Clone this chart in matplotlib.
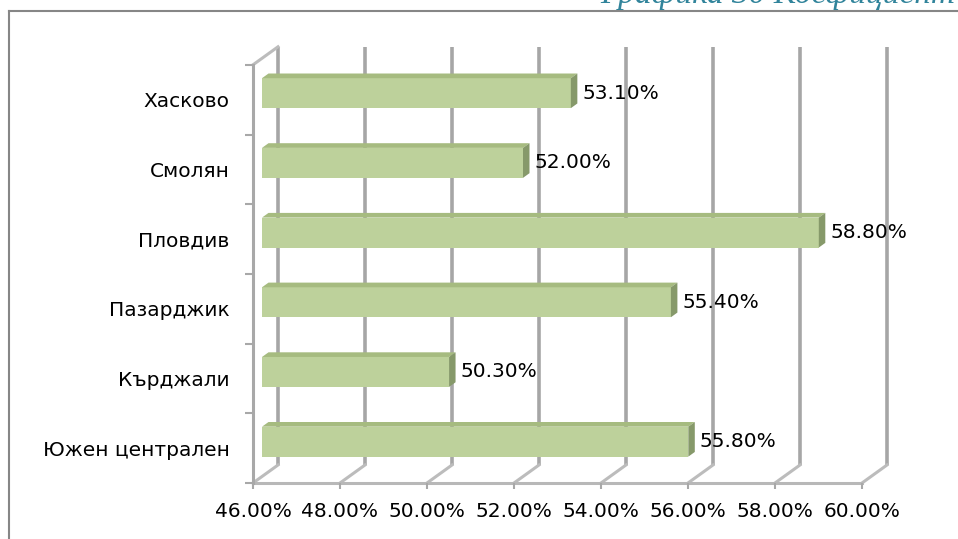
import matplotlib.pyplot as plt
from matplotlib.patches import Polygon
from matplotlib.lines import Line2D

# data
regions = ["Южен централен", "Кърджали", "Пазарджик", "Пловдив", "Смолян", "Хасково"]
values = [55.8, 50.3, 55.4, 58.8, 52.0, 53.1]
xticks = [46, 48, 50, 52, 54, 56, 58, 60]
xtick_labels = ["46.00%", "48.00%", "50.00%", "52.00%", "54.00%", "56.00%", "58.00%", "60.00%"]
value_labels = ["55.80%", "50.30%", "55.40%", "58.80%", "52.00%", "53.10%"]

plt.rcParams['font.family'] = ['DejaVu Sans']

fig = plt.figure(figsize=(9.58, 5.39), dpi=100)
W, H = 958, 539
ax = fig.add_axes([253 / W, 1 - 483 / H, (887 - 253) / W, (483 - 45) / H])
ax.set_xlim(46, 46 + (887 - 253) / 43.5)
ax.set_ylim(0, (483 - 45) / 69.7)

# 3d depth of the walls, in data units
DX = 25 / 43.5
DY = 18 / 69.7
f0, f1 = 0.36, 0.62      # bar front / back depth
half = 0.215             # half bar height

grid_c = '#a6a6a6'
n = len(regions)

# back wall gridlines and floor diagonals
for v in xticks:
    ax.plot([v + DX, v + DX], [DY, n + DY], color=grid_c, lw=2.6, zorder=1,
            solid_capstyle='butt', clip_on=False)
    ax.plot([v, v + DX], [0, DY], color='#bcbcbc', lw=2.2, zorder=1, clip_on=False)
# front floor line and left wall
ax.plot([46, 60], [0, 0], color='#b8b8b8', lw=2.2, zorder=1, clip_on=False)
ax.plot([46, 46 + DX], [n, n + DY], color='#bcbcbc', lw=2.2, zorder=1, clip_on=False)

# bars
for i, v in enumerate(values):
    yb = i + 0.5 - half
    yt = i + 0.5 + half
    x0 = 46
    front = [(x0 + f0 * DX, yb + f0 * DY), (v + f0 * DX, yb + f0 * DY),
             (v + f0 * DX, yt + f0 * DY), (x0 + f0 * DX, yt + f0 * DY)]
    top = [(x0 + f0 * DX, yt + f0 * DY), (v + f0 * DX, yt + f0 * DY),
           (v + f1 * DX, yt + f1 * DY), (x0 + f1 * DX, yt + f1 * DY)]
    side = [(v + f0 * DX, yb + f0 * DY), (v + f1 * DX, yb + f1 * DY),
            (v + f1 * DX, yt + f1 * DY), (v + f0 * DX, yt + f0 * DY)]
    ax.add_patch(Polygon(front, closed=True, facecolor='#bdd19b', edgecolor='none',
                         zorder=3, clip_on=False))
    ax.add_patch(Polygon(top, closed=True, facecolor='#a6bb80', edgecolor='none',
                         zorder=3, clip_on=False))
    ax.add_patch(Polygon(side, closed=True, facecolor='#86996a', edgecolor='none',
                         zorder=3, clip_on=False))
    ax.annotate(value_labels[i], (v + f1 * DX, i + 0.5 + f0 * DY),
                xytext=(3.5, 0), textcoords='offset points',
                ha='left', va='center', fontsize=14.5, color='black', zorder=4)

# axes styling
for s in ['top', 'right', 'bottom']:
    ax.spines[s].set_visible(False)
ax.spines['left'].set_color('#a8a8a8')
ax.spines['left'].set_linewidth(2.2)
ax.spines['left'].set_bounds(0, n)
ax.patch.set_visible(False)

ax.set_xticks(xticks)
ax.set_xticklabels(xtick_labels, fontsize=14.5)
ax.tick_params(axis='x', length=4, width=1.5, color='#a8a8a8', pad=10)

ax.set_yticks(range(n + 1))
ax.set_yticklabels([])
ax.tick_params(axis='y', which='major', length=6, width=1.5, color='#a8a8a8')
ax.set_yticks([i + 0.5 for i in range(n)], minor=True)
ax.set_yticklabels(regions, minor=True, fontsize=14.5)
ax.tick_params(axis='y', which='minor', length=0, pad=17)

# chart frame and cut-off caption
fig.add_artist(Line2D([9 / W, 9 / W], [0, 1 - 11 / H], color='#868686', lw=1.5,
                      transform=fig.transFigure))
fig.add_artist(Line2D([9 / W, 1], [1 - 11 / H, 1 - 11 / H], color='#868686', lw=1.5,
                      transform=fig.transFigure))
fig.text(600 / W, 1 - 3 / H, "Графика 30 Коефициент на", fontsize=24,
         family='Liberation Serif', style='italic', color='#31849b', va='baseline')

fig.savefig('out.png', dpi=100)
